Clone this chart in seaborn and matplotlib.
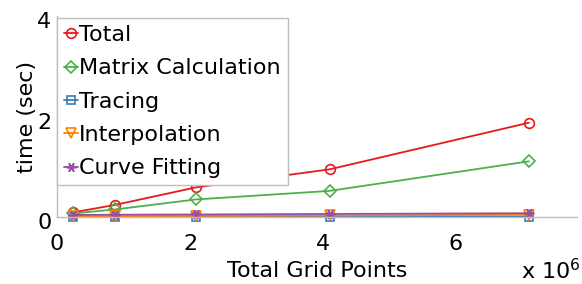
import numpy as np
import pandas as pd
import matplotlib
matplotlib.use("Agg")
import matplotlib.pyplot as plt
import matplotlib.transforms as mtransforms
import seaborn as sns
from matplotlib.ticker import FuncFormatter

# grid points (raw counts) and run times in seconds
grid_points = [0.236e6, 0.87e6, 2.09e6, 4.1e6, 7.1e6]
total = [0.09, 0.24, 0.59, 0.95, 1.88]
matrix_calc = [0.07, 0.15, 0.35, 0.52, 1.11]
tracing = [0.002, 0.003, 0.004, 0.006, 0.008]
interpolation = [0.015, 0.016, 0.02, 0.03, 0.045]
curve_fitting = [0.04, 0.045, 0.05, 0.06, 0.075]

series_names = ["Total", "Matrix Calculation", "Tracing", "Interpolation", "Curve Fitting"]
series_values = [total, matrix_calc, tracing, interpolation, curve_fitting]

pal = sns.color_palette("Set1")
colors = [pal[0], pal[2], pal[1], pal[4], pal[3]]
markers = ["o", "D", "s", "v", (6, 2, 90)]
msizes = [7, 6.5, 5.5, 6.5, 7]

sns.set_style("white")
plt.rcParams["font.family"] = ["DejaVu Sans"]
plt.rcParams["text.color"] = "black"
plt.rcParams["axes.labelcolor"] = "black"

fig = plt.figure(figsize=(5.82, 2.84), dpi=100)
ax = fig.add_axes([0.098, 0.236, 0.893, 0.706])

for name, vals, c, m, ms in zip(series_names, series_values, colors, markers, msizes):
    df = pd.DataFrame({"x": grid_points, "y": vals})
    sns.lineplot(data=df, x="x", y="y", ax=ax, color=c, marker=m, markersize=ms,
                 mfc="none", mec=c, mew=1.2, lw=1.3, label=name, clip_on=False)

ax.set_xlim(0, 7.82e6)
ax.set_ylim(0, 4)
ax.set_xticks([0, 2e6, 4e6, 6e6])
ax.set_yticks([0, 2, 4])
ax.xaxis.set_major_formatter(FuncFormatter(lambda v, p: f"{v / 1e6:g}"))
ax.tick_params(axis="both", length=0, labelsize=16, labelcolor="black")
ax.tick_params(axis="x", pad=12)
ax.tick_params(axis="y", pad=4)

# y tick labels sit a little low in the original
shift = mtransforms.ScaledTranslation(0, -4 / 100, fig.dpi_scale_trans)
for lab in ax.get_yticklabels():
    lab.set_transform(lab.get_transform() + shift)

for s in ["top", "right"]:
    ax.spines[s].set_visible(False)
for s in ["left", "bottom"]:
    ax.spines[s].set_color("#bdbdbd")
    ax.spines[s].set_linewidth(1.0)

ax.set_xlabel("Total Grid Points", fontsize=16, labelpad=5)
ax.set_ylabel("time (sec)", fontsize=16, labelpad=0)
fig.text(0.896, 0.004, "x 10$^6$", fontsize=16, ha="left", va="bottom")

leg = ax.legend(loc="upper left", bbox_to_anchor=(0, 0.99), borderaxespad=0,
                fontsize=16, handlelength=0.65, handletextpad=0.05,
                labelspacing=0.6, borderpad=0.3, fancybox=False, framealpha=1)
leg.get_frame().set_edgecolor("#bdbdbd")
leg.get_frame().set_linewidth(1.0)

fig.savefig("out.png", dpi=100)
